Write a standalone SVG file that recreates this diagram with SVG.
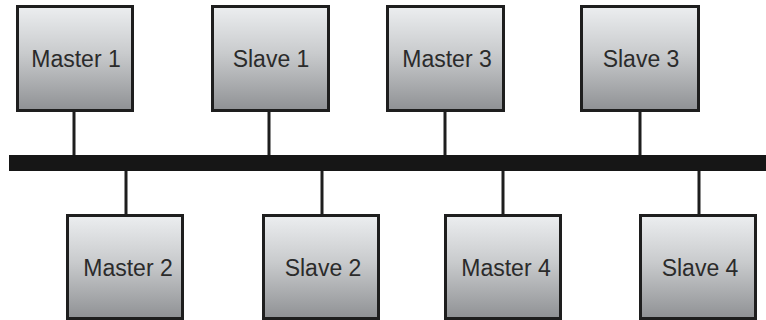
<svg xmlns="http://www.w3.org/2000/svg" width="766" height="320" viewBox="0 0 766 320">
<defs>
<linearGradient id="g" x1="0" y1="0" x2="0" y2="1">
<stop offset="0" stop-color="#eceef0"/>
<stop offset="0.45" stop-color="#c9cbcd"/>
<stop offset="1" stop-color="#8f9194"/>
</linearGradient>
<style>
.box{fill:url(#g);stroke:#1e1e1e;stroke-width:3}
.lbl{font-family:"Liberation Sans",Arial,sans-serif;font-size:23px;fill:#2b2b2b;text-anchor:middle}
.wire{stroke:#1e1e1e;stroke-width:3;fill:none}
</style>
</defs>
<rect width="766" height="320" fill="#ffffff"/>
<g id="connectors">
<rect x="9" y="155" width="757" height="16" fill="#161616"/>
<path class="wire" d="M74 111V155M269 111V155M445 111V155M640 111V155M126 171V215M322 171V215M503 171V215M699 171V215"/>
</g>
<g id="master1"><rect class="box" x="17.5" y="6.5" width="115" height="104"/><text class="lbl" x="76" y="67">Master 1</text></g>
<g id="slave1"><rect class="box" x="212.5" y="6.5" width="116" height="104"/><text class="lbl" x="271" y="67">Slave 1</text></g>
<g id="master3"><rect class="box" x="387.5" y="6.5" width="116" height="104"/><text class="lbl" x="447" y="67">Master 3</text></g>
<g id="slave3"><rect class="box" x="581.5" y="6.5" width="117" height="104"/><text class="lbl" x="641" y="67">Slave 3</text></g>
<g id="master2"><rect class="box" x="67.5" y="215.5" width="115" height="103"/><text class="lbl" x="128" y="276">Master 2</text></g>
<g id="slave2"><rect class="box" x="263.5" y="215.5" width="115" height="103"/><text class="lbl" x="323" y="276">Slave 2</text></g>
<g id="master4"><rect class="box" x="445.5" y="215.5" width="115" height="103"/><text class="lbl" x="506" y="276">Master 4</text></g>
<g id="slave4"><rect class="box" x="640.5" y="215.5" width="115" height="103"/><text class="lbl" x="700" y="276">Slave 4</text></g>
</svg>
